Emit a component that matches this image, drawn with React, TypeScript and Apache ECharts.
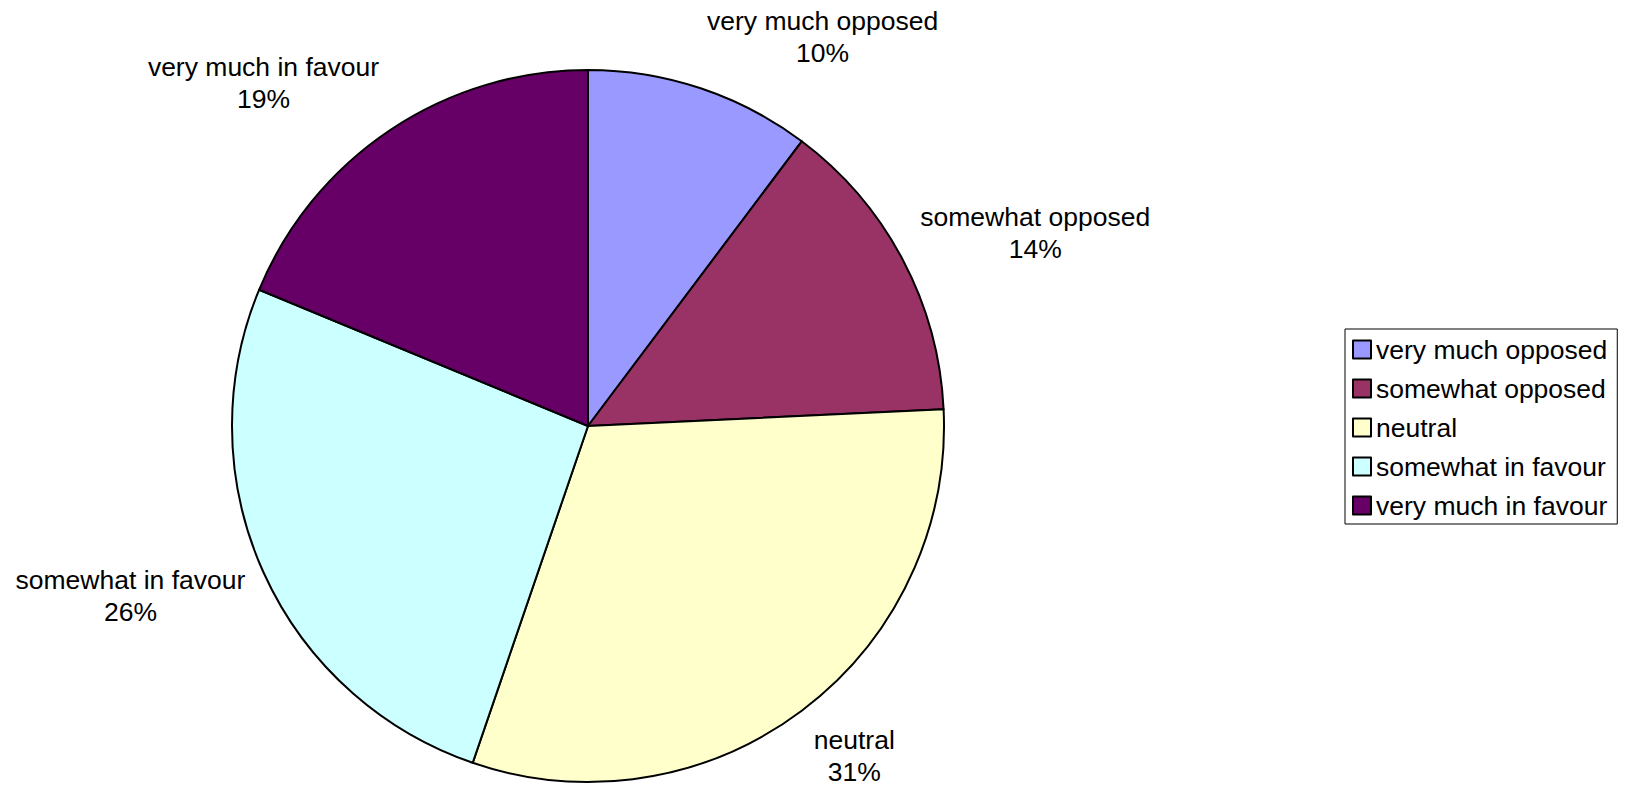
import React, { useEffect, useRef } from "react";
import * as echarts from "echarts";

const categories = [
  "very much opposed",
  "somewhat opposed",
  "neutral",
  "somewhat in favour",
  "very much in favour",
];
const values = [41, 56, 124, 104, 75];
const colors = ["#9999FF", "#993366", "#FFFFCC", "#CCFFFF", "#660066"];

const CX = 588;
const CY = 426;
const R = 356;
const FONT = "'Liberation Sans', Arial, sans-serif";

export default function App() {
  const ref = useRef<HTMLDivElement>(null);
  useEffect(() => {
    if (!ref.current) return;
    const chart = echarts.init(ref.current, null, { renderer: "svg" });
    const total = values.reduce((a, b) => a + b, 0);
    const mids: number[] = [];
    let cum = 0;
    values.forEach((v) => {
      mids.push(((cum + v / 2) / total) * 2 * Math.PI);
      cum += v;
    });
    chart.setOption({
      animation: false,
      backgroundColor: "#ffffff",
      legend: {
        orient: "vertical",
        left: 1345,
        top: 329,
        padding: [7, 10, 5, 7],
        itemWidth: 18,
        itemHeight: 18,
        itemGap: 12,
        borderColor: "#000",
        borderWidth: 1,
        icon: "rect",
        data: categories,
        textStyle: { fontSize: 26.5, color: "#000", fontFamily: FONT },
      },
      series: [
        {
          type: "pie",
          center: [CX, CY],
          radius: R,
          startAngle: 90,
          clockwise: true,
          percentPrecision: 0,
          data: categories.map((name, i) => ({
            name,
            value: values[i],
            itemStyle: { color: colors[i] },
          })),
          itemStyle: { borderColor: "#000", borderWidth: 2 },
          emphasis: { disabled: true },
          label: {
            show: true,
            position: "outside",
            formatter: "{b}\n{d}%",
            fontSize: 26.5,
            lineHeight: 32,
            color: "#000",
            fontFamily: FONT,
            overflow: "none",
            edgeDistance: 0,
            bleedMargin: 0,
          },
          labelLine: { show: false },
          labelLayout: (params: any) => {
            const th = mids[params.dataIndex];
            const s = Math.sin(th);
            const c = Math.cos(th);
            const g = 20;
            const px = CX + (R + g) * s;
            const py = CY - (R + g) * c;
            const w = params.labelRect.width;
            const h = params.labelRect.height;
            const cy = Math.max(-1, Math.min(1, 1.15 * c));
            return {
              x: px + Math.sign(s) * (w / 2),
              y: py - cy * (h / 2),
              align: "center",
              verticalAlign: "middle",
            };
          },
        },
      ],
    });
    return () => chart.dispose();
  }, []);
  return (
    <div
      ref={ref}
      style={{ position: "fixed", left: 0, top: 0, width: 1628, height: 791 }}
    />
  );
}
